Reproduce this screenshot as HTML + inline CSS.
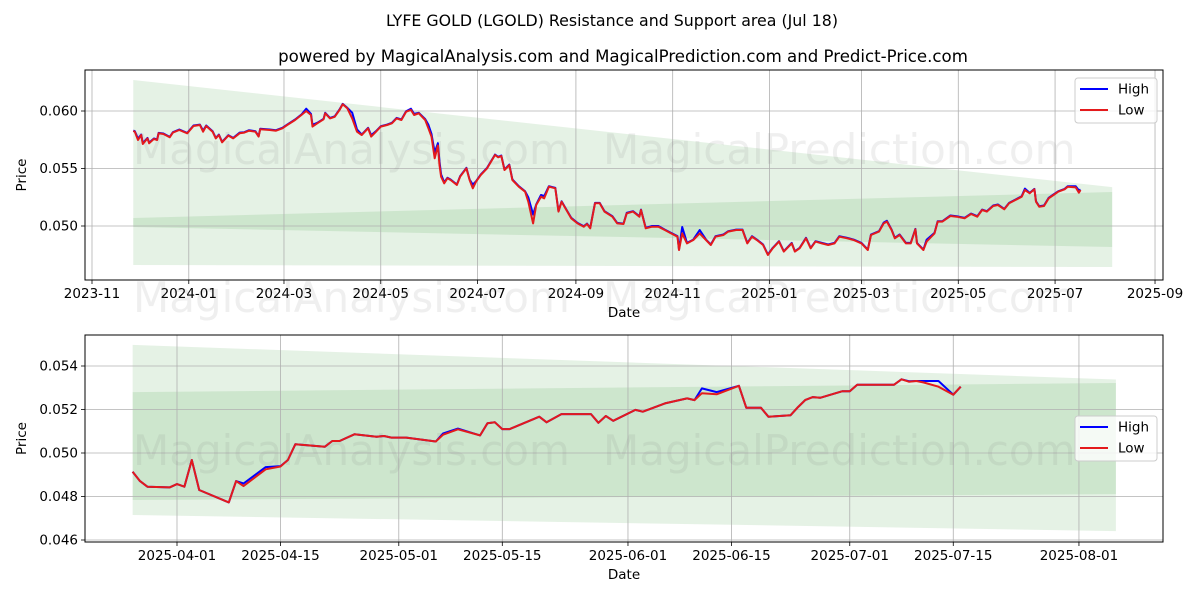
<!DOCTYPE html>
<html><head><meta charset="utf-8"><style>
html,body{margin:0;padding:0;background:#fff;}
svg{display:block;font-family:"DejaVu Sans","Liberation Sans",sans-serif;}
</style></head><body>
<svg id="chart" width="1200" height="600" viewBox="0 0 1200 600" xmlns="http://www.w3.org/2000/svg">
<rect x="0" y="0" width="1200" height="600" fill="#fff"/>
<text x="612" y="26" text-anchor="middle" font-size="15.8" fill="#000">LYFE GOLD (LGOLD) Resistance and Support area (Jul 18)</text>
<text x="623" y="62" text-anchor="middle" font-size="16.6" fill="#000">powered by MagicalAnalysis.com and MagicalPrediction.com and Predict-Price.com</text>
<g id="top"></g>
<g id="bottom"></g>
</svg>
<script>
// ---------- TOP PANEL DATA (days since 2023-11-01) ----------
const topDays = [26,27,29,31,32,35,36,39,41,42,45,49,51,55,60,64,68,70,72,76,78,80,82,86,89,93,96,99,103,105,106,112,116,120,123,128,132,135,138,139,142,146,147,150,153,156,158,161,164,167,170,174,176,179,182,186,189,192,195,198,201,203,206,210,212,214,216,218,219,220,222,224,226,230,232,236,238,240,242,245,249,254,256,258,260,263,265,269,273,275,278,280,283,285,288,292,294,296,299,302,306,310,312,314,317,320,323,328,331,335,337,341,345,346,349,353,357,361,365,369,370,372,375,379,383,387,390,393,398,401,406,410,413,416,419,423,426,429,433,436,441,443,446,450,453,456,460,464,468,471,476,480,485,489,491,496,499,501,504,506,509,513,516,519,520,524,526,531,533,536,541,545,550,554,558,561,564,568,571,575,578,582,586,588,591,594,595,597,600,603,606,609,613,615,620,622,623];
const topLow = [0.05826,0.05820,0.05748,0.05791,0.05713,0.05762,0.05719,0.05757,0.05748,0.05806,0.05800,0.05771,0.05812,0.05835,0.05806,0.05870,0.05878,0.05820,0.05870,0.05820,0.05762,0.05791,0.05728,0.05786,0.05762,0.05806,0.05812,0.05829,0.05820,0.05777,0.05841,0.05835,0.05829,0.05850,0.05878,0.05922,0.05965,0.06000,0.05965,0.05864,0.05893,0.05928,0.05980,0.05936,0.05950,0.06009,0.06058,0.06023,0.05936,0.05820,0.05791,0.05850,0.05777,0.05820,0.05864,0.05878,0.05893,0.05936,0.05922,0.05994,0.06010,0.05965,0.05980,0.05922,0.05850,0.05777,0.05589,0.05700,0.05530,0.05429,0.05371,0.05415,0.05400,0.05357,0.05429,0.05502,0.05400,0.05328,0.05385,0.05443,0.05502,0.05617,0.05597,0.05609,0.05487,0.05530,0.05400,0.05342,0.05298,0.05211,0.05023,0.05183,0.05255,0.05241,0.05342,0.05328,0.05125,0.05211,0.05139,0.05067,0.05023,0.04994,0.05017,0.04980,0.05197,0.05197,0.05125,0.05081,0.05023,0.05017,0.05110,0.05125,0.05081,0.05139,0.04980,0.04994,0.04994,0.04965,0.04936,0.04907,0.04791,0.04936,0.04849,0.04878,0.04936,0.04878,0.04835,0.04907,0.04922,0.04951,0.04965,0.04965,0.04849,0.04907,0.04878,0.04835,0.04748,0.04806,0.04864,0.04777,0.04849,0.04777,0.04806,0.04893,0.04806,0.04864,0.04849,0.04835,0.04849,0.04907,0.04893,0.04878,0.04849,0.04791,0.04922,0.04951,0.05023,0.05038,0.04965,0.04893,0.04922,0.04849,0.04849,0.04971,0.04849,0.04791,0.04864,0.04936,0.05038,0.05038,0.05087,0.05081,0.05067,0.05104,0.05081,0.05139,0.05125,0.05174,0.05183,0.05145,0.05197,0.05226,0.05255,0.05313,0.05284,0.05319,0.05211,0.05168,0.05174,0.05241,0.05270,0.05298,0.05319,0.05342,0.05336,0.05290,0.05313];
const topHigh = [0.05830,0.05824,0.05760,0.05795,0.05720,0.05766,0.05725,0.05761,0.05752,0.05810,0.05804,0.05775,0.05816,0.05839,0.05810,0.05874,0.05882,0.05830,0.05874,0.05824,0.05766,0.05795,0.05732,0.05790,0.05766,0.05812,0.05816,0.05833,0.05824,0.05781,0.05845,0.05839,0.05833,0.05854,0.05882,0.05926,0.05969,0.06020,0.05975,0.05880,0.05897,0.05932,0.05984,0.05940,0.05954,0.06013,0.06062,0.06027,0.05985,0.05840,0.05795,0.05854,0.05790,0.05824,0.05868,0.05882,0.05897,0.05940,0.05926,0.05998,0.06020,0.05975,0.05984,0.05930,0.05880,0.05800,0.05640,0.05720,0.05560,0.05450,0.05380,0.05419,0.05404,0.05361,0.05433,0.05506,0.05404,0.05360,0.05389,0.05447,0.05506,0.05621,0.05601,0.05613,0.05491,0.05534,0.05404,0.05346,0.05302,0.05250,0.05100,0.05187,0.05270,0.05260,0.05346,0.05332,0.05129,0.05215,0.05143,0.05071,0.05027,0.04998,0.05021,0.04984,0.05201,0.05201,0.05129,0.05085,0.05027,0.05021,0.05114,0.05129,0.05085,0.05143,0.04984,0.05000,0.05000,0.04969,0.04940,0.04911,0.04795,0.04991,0.04853,0.04882,0.04965,0.04882,0.04839,0.04911,0.04926,0.04955,0.04969,0.04969,0.04853,0.04911,0.04882,0.04839,0.04752,0.04810,0.04868,0.04781,0.04853,0.04781,0.04810,0.04897,0.04810,0.04868,0.04853,0.04839,0.04853,0.04911,0.04897,0.04882,0.04853,0.04795,0.04926,0.04955,0.05030,0.05045,0.04969,0.04897,0.04926,0.04853,0.04853,0.04975,0.04853,0.04795,0.04880,0.04940,0.05042,0.05042,0.05091,0.05085,0.05071,0.05108,0.05085,0.05143,0.05129,0.05178,0.05187,0.05149,0.05201,0.05230,0.05259,0.05325,0.05288,0.05323,0.05215,0.05172,0.05178,0.05245,0.05274,0.05302,0.05323,0.05346,0.05345,0.05310,0.05317];
const topBandDays = [26,643];
const topOuterUpper = [0.06270,0.05338];
const topOuterLower = [0.04661,0.04643];
const topInnerUpper = [0.05070,0.05296];
const topInnerLower = [0.04991,0.04817];
const topYTicks = [0.050,0.055,0.060];
const topYTickLabels = ["0.050","0.055","0.060"];
const topXTicks = [0,61,121,182,243,305,366,427,485,546,607,670];
const topXTickLabels = ["2023-11","2024-01","2024-03","2024-05","2024-07","2024-09","2024-11","2025-01","2025-03","2025-05","2025-07","2025-09"];

// ---------- BOTTOM PANEL DATA (days since 2025-04-01) ----------
const botDays = [-6,-5,-4,-1,0,1,2,3,7,8,9,12,14,15,16,20,21,22,24,27,28,29,31,35,36,38,41,42,43,44,45,49,50,52,56,57,58,59,62,63,66,69,70,71,73,76,77,79,80,83,84,85,86,87,90,91,92,97,98,99,100,101,103,105,106];
const botLow = [0.04914,0.04871,0.04845,0.04842,0.04857,0.04845,0.04968,0.04830,0.04773,0.04871,0.04848,0.04925,0.04938,0.04968,0.05040,0.05029,0.05055,0.05055,0.05086,0.05075,0.05078,0.05071,0.05071,0.05053,0.05084,0.05109,0.05081,0.05137,0.05141,0.05110,0.05110,0.05167,0.05141,0.05179,0.05179,0.05139,0.05170,0.05148,0.05198,0.05190,0.05228,0.05251,0.05243,0.05275,0.05270,0.05309,0.05208,0.05208,0.05167,0.05174,0.05211,0.05244,0.05257,0.05254,0.05284,0.05284,0.05314,0.05314,0.05339,0.05328,0.05331,0.05324,0.05305,0.05268,0.05305];
const botHigh = [0.04914,0.04871,0.04845,0.04842,0.04857,0.04845,0.04968,0.04830,0.04773,0.04871,0.04860,0.04935,0.04940,0.04968,0.05040,0.05029,0.05055,0.05055,0.05086,0.05075,0.05078,0.05071,0.05071,0.05053,0.05090,0.05112,0.05081,0.05137,0.05141,0.05110,0.05110,0.05167,0.05141,0.05179,0.05179,0.05139,0.05170,0.05148,0.05198,0.05190,0.05228,0.05251,0.05243,0.05297,0.05280,0.05309,0.05208,0.05208,0.05167,0.05174,0.05211,0.05244,0.05257,0.05254,0.05284,0.05284,0.05314,0.05314,0.05339,0.05330,0.05331,0.05331,0.05331,0.05268,0.05305];
const botBandDays = [-6,127];
const botOuterUpper = [0.05497,0.05338];
const botOuterLower = [0.04715,0.04641];
const botInnerUpper = [0.05280,0.05322];
const botInnerLower = [0.04784,0.04811];
const botYTicks = [0.046,0.048,0.050,0.052,0.054];
const botYTickLabels = ["0.046","0.048","0.050","0.052","0.054"];
const botXTicks = [0,14,30,44,61,75,91,105,122];
const botXTickLabels = ["2025-04-01","2025-04-15","2025-05-01","2025-05-15","2025-06-01","2025-06-15","2025-07-01","2025-07-15","2025-08-01"];

const NS = "http://www.w3.org/2000/svg";
function mk(parent, tag, attrs){ const e=document.createElementNS(NS,tag); for(const k in attrs) e.setAttribute(k,attrs[k]); parent.appendChild(e); return e; }

function drawPanel(g, cfg){
  const {L,R,T,B,xs,ys} = cfg;
  function band(days, up, lo, name){
    const pts = days.map((d,i)=>xs(d)+","+ys(up[i])).concat(days.slice().reverse().map((d,j)=>{const i=days.length-1-j;return xs(d)+","+ys(lo[i]);}));
    const p = mk(g,"polygon",{points:pts.join(" "),fill:"rgba(0,128,0,0.1)"});
    
    
  }
  band(cfg.bandDays,cfg.outerUp,cfg.outerLo,"outer-band");
  band(cfg.bandDays,cfg.innerUp,cfg.innerLo,"inner-band");
  cfg.xTicks.forEach((d,i)=>{
    const x=xs(d);
    const gl=mk(g,"line",{x1:x,x2:x,y1:T,y2:B,stroke:"#b0b0b0","stroke-width":0.8});
    
    
    mk(g,"line",{x1:x,x2:x,y1:B,y2:B+4,stroke:"#000","stroke-width":0.8});
    const t=mk(g,"text",{x:x,y:B+18,"text-anchor":"middle","font-size":13.5,fill:"#000"});
    t.textContent=cfg.xLabels[i];
    
    
  });
  cfg.yTicks.forEach((v,i)=>{
    const y=ys(v);
    const gl=mk(g,"line",{x1:L,x2:R,y1:y,y2:y,stroke:"#b0b0b0","stroke-width":0.8});
    
    
    mk(g,"line",{x1:L-4,x2:L,y1:y,y2:y,stroke:"#000","stroke-width":0.8});
    const t=mk(g,"text",{x:L-7,y:y+4.5,"text-anchor":"end","font-size":13.5,fill:"#000"});
    t.textContent=cfg.yLabels[i];
    
    
  });
  cfg.wm.forEach(w=>{
    const t=mk(g,"text",{x:w[0],y:w[1],"font-size":42,fill:"rgba(120,120,120,0.12)"});
    t.textContent=w[2];
    
    
  });
  function line(days, vals, color, name){
    const p=mk(g,"polyline",{points:days.map((d,i)=>xs(d).toFixed(1)+","+ys(vals[i]).toFixed(1)).join(" "),fill:"none",stroke:color,"stroke-width":2,"stroke-linejoin":"round"});
    
    
  }
  line(cfg.days,cfg.high,"#0000ff","high-line");
  line(cfg.days,cfg.low,"#e41a1c","low-line");
  const fr=mk(g,"rect",{x:L,y:T,width:R-L,height:B-T,fill:"none",stroke:"#000","stroke-width":1});
  
  
  const xt=mk(g,"text",{x:(L+R)/2,y:B+37,"text-anchor":"middle","font-size":13.5,fill:"#000"});
  xt.textContent="Date";
  
  
  const yt=mk(g,"text",{x:0,y:0,"text-anchor":"middle","font-size":13.5,fill:"#000",transform:`translate(26,${(T+B)/2}) rotate(-90)`});
  yt.textContent="Price";
  
  
  const lg=mk(g,"g",{});
  
  
  const ly=cfg.legendY;
  mk(lg,"rect",{x:1075,y:ly,width:82,height:45,rx:3,fill:"rgba(255,255,255,0.8)",stroke:"#ccc","stroke-width":1});
  [["High","#0000ff",11],["Low","#e41a1c",32]].forEach(e=>{
    const eg=mk(lg,"g",{});
    
    
    mk(eg,"line",{x1:1080,x2:1108,y1:ly+e[2],y2:ly+e[2],stroke:e[1],"stroke-width":2});
    const t=mk(eg,"text",{x:1118,y:ly+e[2]+4.5,"font-size":13.5,fill:"#000"});
    t.textContent=e[0];
  });
}

const tL=85,tR=1163,tT=70,tB=280;
const txs=d=>92+d*1.5866;
const tys=v=>226-(v-0.050)*11500;
drawPanel(document.getElementById("top"),{L:tL,R:tR,T:tT,B:tB,xs:txs,ys:tys,
  bandDays:topBandDays,outerUp:topOuterUpper,outerLo:topOuterLower,innerUp:topInnerUpper,innerLo:topInnerLower,
  xTicks:topXTicks,xLabels:topXTickLabels,yTicks:topYTicks,yLabels:topYTickLabels,
  days:topDays,high:topHigh,low:topLow,legendY:78,
  wm:[[133,164,"MagicalAnalysis.com"],[603,164,"MagicalPrediction.com"],[133,312,"MagicalAnalysis.com"],[603,312,"MagicalPrediction.com"]]});

const bL=85,bR=1163,bT=335,bB=542;
const bxs=d=>177+d*7.393;
const bys=v=>453-(v-0.050)*21750;
drawPanel(document.getElementById("bottom"),{L:bL,R:bR,T:bT,B:bB,xs:bxs,ys:bys,
  bandDays:botBandDays,outerUp:botOuterUpper,outerLo:botOuterLower,innerUp:botInnerUpper,innerLo:botInnerLower,
  xTicks:botXTicks,xLabels:botXTickLabels,yTicks:botYTicks,yLabels:botYTickLabels,
  days:botDays,high:botHigh,low:botLow,legendY:416,
  wm:[[133,465,"MagicalAnalysis.com"],[603,465,"MagicalPrediction.com"]]});
</script>
</body></html>
